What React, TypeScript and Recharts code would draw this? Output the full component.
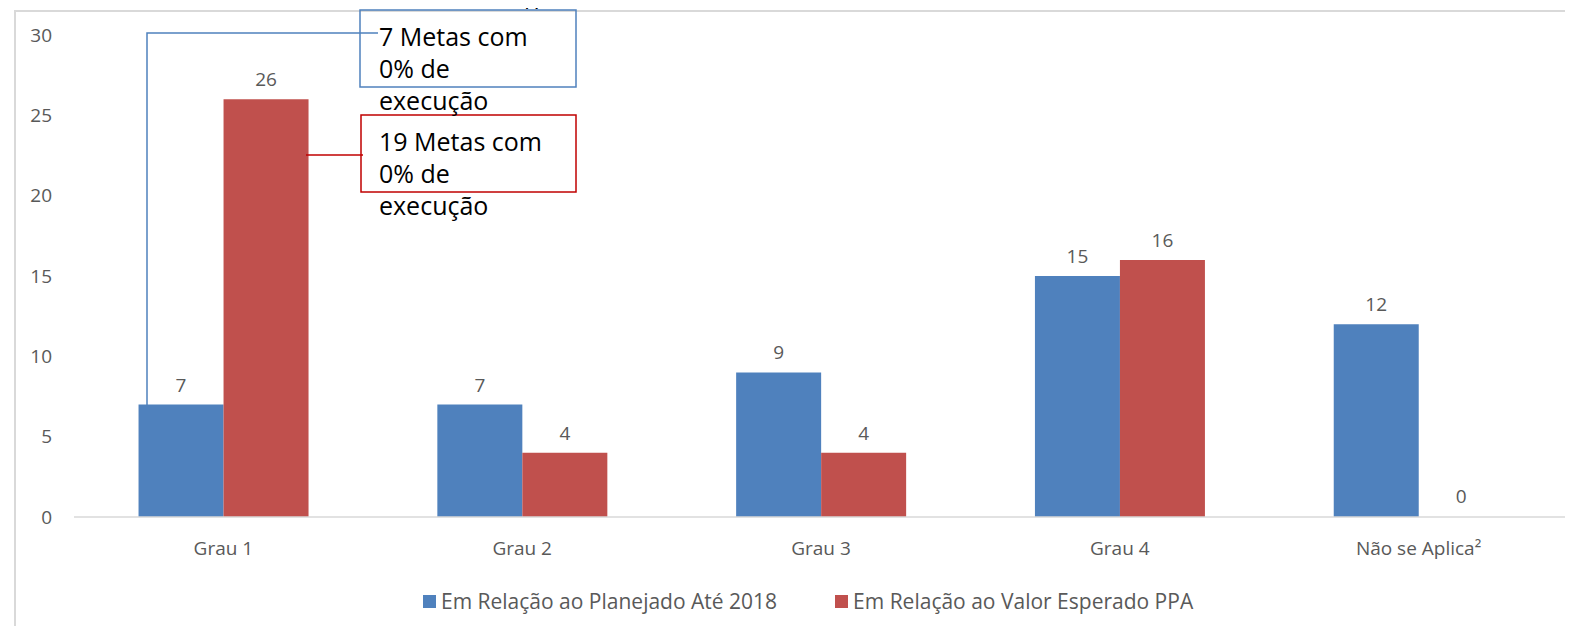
import { BarChart, Bar, XAxis, YAxis, LabelList, Rectangle } from 'recharts'

const CATEGORIES = ['Grau 1', 'Grau 2', 'Grau 3', 'Grau 4', 'Não se Aplica²']
const PLANEJADO = [7, 7, 9, 15, 12]
const ESPERADO_PPA = [26, 4, 4, 16, 0]
const Y_TICKS = [0, 5, 10, 15, 20, 25, 30]

const SERIES = [
  { key: 'planejado', name: 'Em Relação ao Planejado Até 2018', color: '#4F81BD' },
  { key: 'ppa', name: 'Em Relação ao Valor Esperado PPA', color: '#C0504D' },
]

const data = CATEGORIES.map((cat, i) => ({
  cat,
  planejado: PLANEJADO[i],
  ppa: ESPERADO_PPA[i],
}))

const FONT = "'Open Sans', sans-serif"
const GRAY = '#595959'

export default function App() {
  return (
    <div
      style={{
        position: 'relative',
        width: 1573,
        height: 634,
        margin: -8,
        overflow: 'hidden',
        background: '#fff',
        fontFamily: FONT,
      }}
    >
      {/* chart frame */}
      <div
        style={{
          position: 'absolute',
          left: 14,
          top: 10,
          width: 1600,
          height: 700,
          borderTop: '2px solid #D9D9D9',
          borderLeft: '2px solid #D9D9D9',
          background: '#fff',
        }}
      />

      <div style={{ position: 'absolute', left: 0, top: 0 }}>
        <BarChart
          width={1573}
          height={634}
          data={data}
          margin={{ top: 35, right: 5, bottom: 87, left: 0 }}
          barCategoryGap="21.6%"
          barGap={0}
        >
          <XAxis
            dataKey="cat"
            height={30}
            tickLine={false}
            tickSize={0}
            tickMargin={25}
            axisLine={{ stroke: '#D9D9D9', strokeWidth: 1.5 }}
            tick={{ fill: GRAY, fontSize: 19, fontFamily: FONT }}
          />
          <YAxis
            width={74}
            domain={[0, 30]}
            ticks={Y_TICKS}
            axisLine={false}
            tickLine={false}
            tickSize={0}
            tickMargin={22}
            tick={{ fill: GRAY, fontSize: 19, fontFamily: FONT }}
          />
          {SERIES.map((s) => (
            <Bar
              key={s.key}
              dataKey={s.key}
              name={s.name}
              fill={s.color}
              minPointSize={1}
              isAnimationActive={false}
              shape={(p: any) =>
                p.payload[s.key] === 0 ? <g /> : <Rectangle {...p} />
              }
            >
              <LabelList
                dataKey={s.key}
                position="top"
                offset={13}
                fill={GRAY}
                fontSize={19}
                fontFamily={FONT}
              />
            </Bar>
          ))}
        </BarChart>
      </div>

      {/* callouts */}
      <svg
        width={1573}
        height={634}
        style={{ position: 'absolute', left: 0, top: 0, pointerEvents: 'none' }}
      >
        <polyline points="147,405 147,33 378,33" fill="none" stroke="#4F81BD" strokeWidth={1.5} />
        <rect x={360} y={10} width={216} height={77} fill="none" stroke="#4F81BD" strokeWidth={1.5} />
        <line x1={306} y1={155} x2={363} y2={155} stroke="#C00000" strokeWidth={1.5} />
        <rect x={361} y={115} width={215} height={77} fill="none" stroke="#C00000" strokeWidth={1.5} />
      </svg>
      <div
        style={{
          position: 'absolute',
          left: 379,
          top: 20,
          fontSize: 25,
          lineHeight: '32px',
          color: '#000',
        }}
      >
        7 Metas com
        <br />
        0% de
        <br />
        execução
      </div>
      <div
        style={{
          position: 'absolute',
          left: 379,
          top: 125,
          fontSize: 25,
          lineHeight: '32px',
          color: '#000',
        }}
      >
        19 Metas com
        <br />
        0% de
        <br />
        execução
      </div>

      {/* legend */}
      <div
        style={{
          position: 'absolute',
          left: 423,
          top: 588,
          display: 'flex',
          gap: 58,
          fontSize: 21,
          lineHeight: '26px',
          color: GRAY,
        }}
      >
        {SERIES.map((s) => (
          <div key={s.key} style={{ display: 'flex', alignItems: 'center', gap: 5 }}>
            <span style={{ width: 13, height: 13, background: s.color, display: 'inline-block' }} />
            <span>{s.name}</span>
          </div>
        ))}
      </div>

      {/* title, cut off at the top like the source */}
      <svg
        width={1573}
        height={9}
        style={{ position: 'absolute', left: 0, top: 0, zIndex: 10, display: 'block' }}
      >
        <text x={12} y={7} fontSize={23.5} fontFamily={FONT} fill="#000">
          GRÁFICO 3 – Grau de Eficácia das Metas do Programa
        </text>
      </svg>
    </div>
  )
}
